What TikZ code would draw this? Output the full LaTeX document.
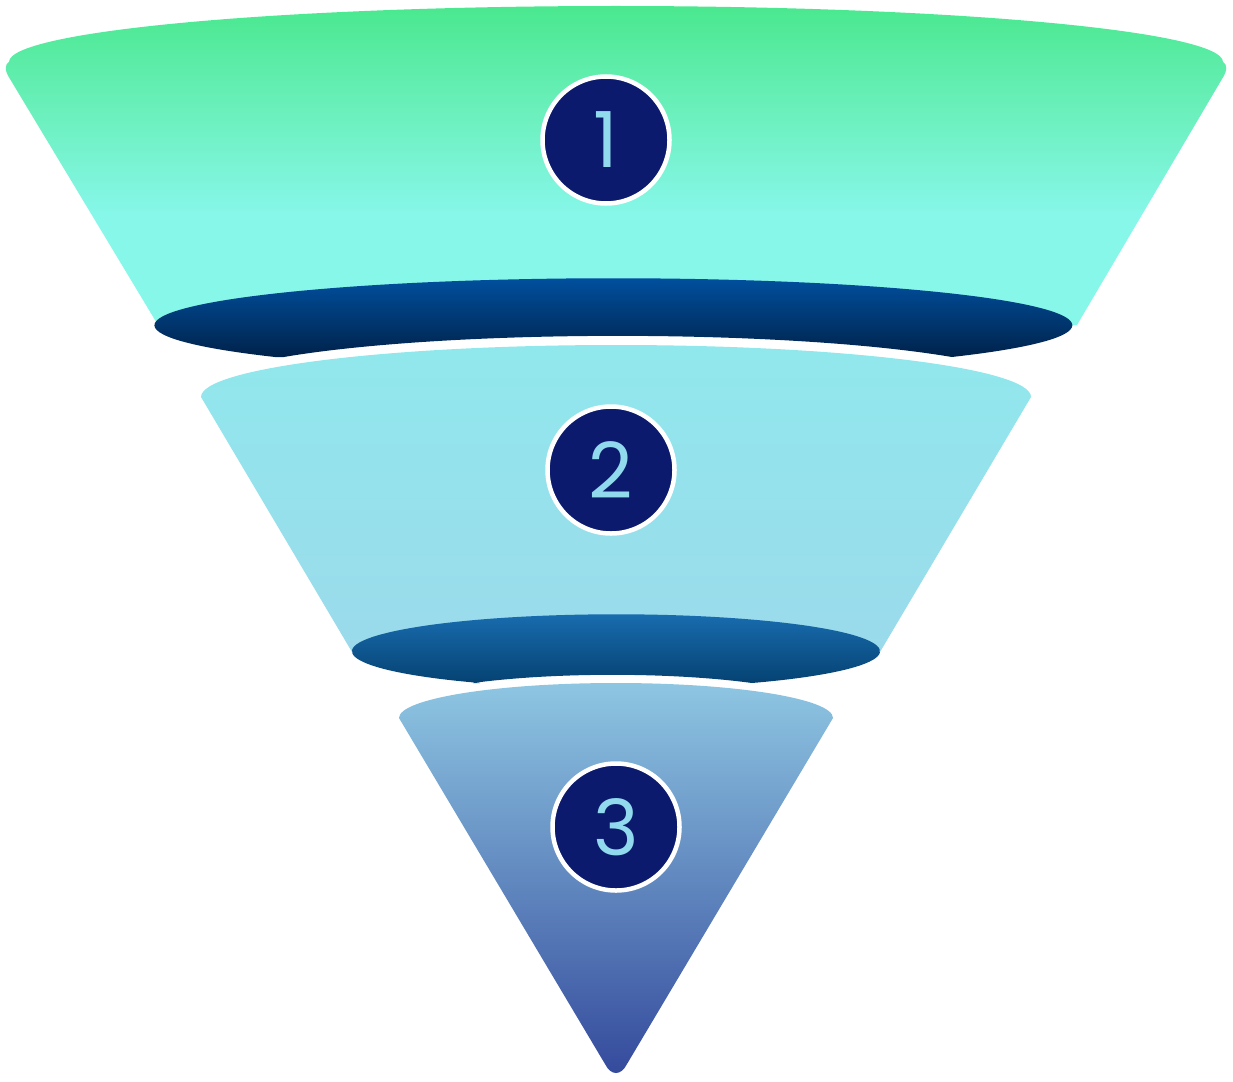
\documentclass[tikz,border=0pt]{standalone}
\usepackage{fontspec}
\newfontfamily\numfont{Poppins}
\definecolor{greentop}{HTML}{4AE88F}
\definecolor{greenmid}{HTML}{6CF0BE}
\definecolor{aqua}{HTML}{87F7EA}
\definecolor{cyantop}{HTML}{90E8EC}
\definecolor{cyanbot}{HTML}{9BDAEB}
\definecolor{bluetop}{HTML}{8EC6E2}
\definecolor{bluemid}{HTML}{6393C6}
\definecolor{bluebot}{HTML}{344A9C}
\definecolor{bandtop}{HTML}{0052A3}
\definecolor{bandbot}{HTML}{00224A}
\definecolor{bandtwotop}{HTML}{1A6FB3}
\definecolor{bandtwobot}{HTML}{054272}
\definecolor{navy}{HTML}{0B1A6C}
\definecolor{numblue}{HTML}{91DAEE}
\pgfdeclareverticalshading{greenfade}{100bp}{color(0bp)=(aqua); color(42bp)=(aqua);
  color(58bp)=(greenmid); color(75bp)=(greentop); color(100bp)=(greentop)}
\begin{document}
\begin{tikzpicture}[x=0.2mm,y=-0.2mm,
  num/.style={circle,draw=white,line width=0.9mm,fill=navy,minimum size=25.4mm,
    text=numblue,font=\numfont\fontsize{44}{44}\selectfont}]
\useasboundingbox (0,0) rectangle (1233,1081);

% top stage
\shade[shading=greenfade]
  (158,325) -- (10,79) .. controls (4,70) and (5,64) .. (9,62)
  .. controls (9,31) and (281,6) .. (616,6)
  .. controls (951,6) and (1223,31) .. (1223,62)
  .. controls (1227,64) and (1228,70) .. (1222,79) -- (1077,325) -- cycle;
\shade[top color=bandtop,bottom color=bandbot]
  (275,357) arc[start angle=137.5,end angle=402.5,x radius=459,y radius=47]
  arc[start angle=323.6,end angle=216.4,x radius=415,y radius=52] -- cycle;

% middle stage
\shade[top color=cyantop,bottom color=cyanbot]
  (201,397) arc[start angle=180,end angle=360,x radius=415,y radius=52]
  -- (880,652) -- (352,652) -- cycle;
\shade[top color=bandtwotop,bottom color=bandtwobot]
  (480,683) arc[start angle=121,end angle=419,x radius=264,y radius=37]
  arc[start angle=310,end angle=230,x radius=217,y radius=35] -- cycle;

% bottom stage
\shade[top color=bluetop,middle color=bluemid,bottom color=bluebot]
  (399,718) arc[start angle=180,end angle=360,x radius=217,y radius=35]
  -- (627,1064) .. controls (621,1076) and (611,1076) .. (605,1064) -- cycle;

\node[num] (n1) at (606,140) {1};
\node[num] (n2) at (611,470) {2};
\node[num] (n3) at (616,827) {3};
\end{tikzpicture}
\end{document}
